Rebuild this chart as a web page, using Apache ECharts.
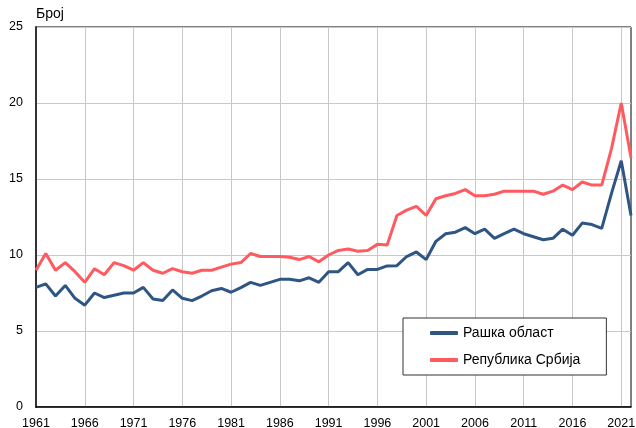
<!DOCTYPE html>
<html>
<head>
<meta charset="utf-8">
<script src="https://cdn.jsdelivr.net/npm/echarts@6/dist/echarts.min.js"></script>
<style>
  html, body { margin: 0; padding: 0; background: #fff; }
  #chart { width: 636px; height: 428px; }
</style>
</head>
<body>
<div id="chart"></div>
<script>
// Years on the category axis (labels every 5th year)
const years = [
  '1961', '1962', '1963', '1964', '1965', '1966', '1967', '1968', '1969', '1970',
  '1971', '1972', '1973', '1974', '1975', '1976', '1977', '1978', '1979', '1980',
  '1981', '1982', '1983', '1984', '1985', '1986', '1987', '1988', '1989', '1990',
  '1991', '1992', '1993', '1994', '1995', '1996', '1997', '1998', '1999', '2000',
  '2001', '2002', '2003', '2004', '2005', '2006', '2007', '2008', '2009', '2010',
  '2011', '2012', '2013', '2014', '2015', '2016', '2017', '2018', '2019', '2020',
  '2021', '2022'
];

const raskaValues = [
  7.87, 8.1, 7.3, 8.0, 7.15, 6.7, 7.5, 7.2, 7.35, 7.5,
  7.5, 7.87, 7.1, 7.0, 7.7, 7.15, 7.0, 7.3, 7.65, 7.8,
  7.55, 7.85, 8.2, 8.0, 8.2, 8.4, 8.4, 8.3, 8.5, 8.2,
  8.9, 8.9, 9.5, 8.7, 9.05, 9.05, 9.28, 9.3, 9.9, 10.2,
  9.7, 10.9, 11.4, 11.5, 11.8, 11.4, 11.7, 11.1, 11.4, 11.7,
  11.4, 11.2, 11.0, 11.1, 11.7, 11.3, 12.1, 12.0, 11.75, 14.05,
  16.2, 12.6
];

const serbiaValues = [
  9.0, 10.1, 9.0, 9.5, 8.9, 8.2, 9.1, 8.7, 9.5, 9.3,
  9.0, 9.5, 9.0, 8.8, 9.1, 8.9, 8.8, 9.0, 9.0, 9.2,
  9.4, 9.5, 10.1, 9.9, 9.9, 9.9, 9.85, 9.7, 9.9, 9.55,
  10.0, 10.3, 10.4, 10.25, 10.3, 10.7, 10.65, 12.6, 12.95, 13.2,
  12.6, 13.7, 13.9, 14.05, 14.3, 13.9, 13.9, 14.0, 14.2, 14.2,
  14.2, 14.2, 14.0, 14.2, 14.6, 14.3, 14.8, 14.6, 14.6, 17.0,
  20.0, 16.4
];

const seriesNames = ['Рашка област', 'Република Србија'];
const colors = ['#2F5583', '#FF5A5F'];
const FONT = '"Liberation Sans", Arial, sans-serif';

const chart = echarts.init(document.getElementById('chart'));

chart.setOption({
  animation: false,
  textStyle: { fontFamily: FONT },
  grid: {
    left: 36, right: 5, top: 27, bottom: 21,
    outerBoundsMode: 'none',
    show: true,
    borderColor: '#000',
    borderWidth: 1,
  },
  legend: {
    orient: 'vertical',
    left: 403,
    top: 318,
    padding: [8, 26, 8, 27],
    itemGap: 13,
    itemWidth: 28,
    itemHeight: 4,
    icon: 'roundRect',
    borderColor: '#333',
    borderWidth: 1,
    backgroundColor: '#fff',
    textStyle: { color: '#000', fontSize: 14, fontFamily: FONT },
    data: seriesNames,
  },
  xAxis: {
    type: 'category',
    data: years,
    boundaryGap: false,
    axisLine: { lineStyle: { color: '#000', width: 1.5 } },
    axisTick: { show: false },
    axisLabel: {
      interval: 4,
      color: '#000',
      fontSize: 12.5,
      margin: 10,
      fontFamily: FONT,
    },
    splitLine: {
      show: true,
      interval: 4,
      lineStyle: { color: '#c8c8c8', width: 1 },
    },
  },
  yAxis: {
    type: 'value',
    min: 0,
    max: 25,
    interval: 5,
    name: 'Број',
    nameLocation: 'end',
    nameGap: 6,
    nameTextStyle: {
      color: '#000',
      fontSize: 14,
      align: 'left',
      fontFamily: FONT,
    },
    axisLine: { show: true, lineStyle: { color: '#333', width: 2 } },
    axisTick: { show: false },
    axisLabel: { color: '#000', fontSize: 12.5, margin: 13, fontFamily: FONT },
    splitLine: { lineStyle: { color: '#c8c8c8', width: 1 } },
  },
  series: [
    {
      name: seriesNames[0],
      type: 'line',
      data: raskaValues,
      symbol: 'none',
      lineStyle: { width: 3, color: colors[0] },
      itemStyle: { color: colors[0] },
      z: 3,
    },
    {
      name: seriesNames[1],
      type: 'line',
      data: serbiaValues,
      symbol: 'none',
      lineStyle: { width: 3, color: colors[1] },
      itemStyle: { color: colors[1] },
      z: 2,
    },
  ],
});
</script>
</body>
</html>
